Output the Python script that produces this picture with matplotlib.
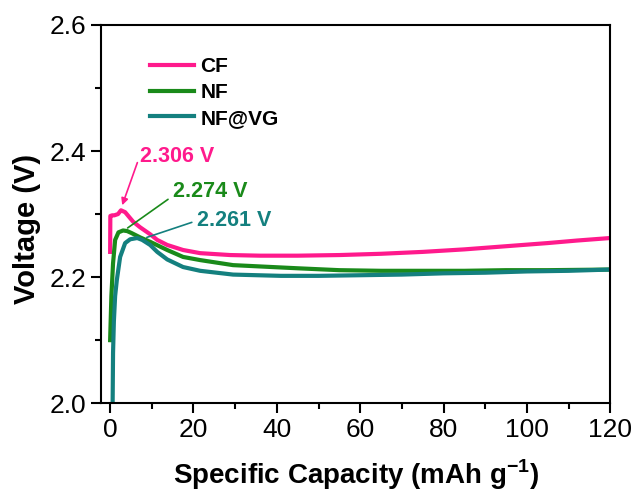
import matplotlib
matplotlib.use("Agg")
import matplotlib.pyplot as plt
from matplotlib.ticker import MultipleLocator

plt.rcParams['font.family'] = ['Liberation Sans', 'DejaVu Sans']

# values
cf_x = [0, 0.05, 0.5, 1, 1.9, 2.6, 3.6, 5.5, 7.2, 9.6, 11.3, 13.7, 17.5, 21.6, 28.8, 36, 45, 55, 65, 75, 85, 95, 105, 112, 120]
cf_y = [2.24, 2.297, 2.298, 2.298, 2.300, 2.306, 2.303, 2.288, 2.279, 2.268, 2.259, 2.251, 2.243, 2.238, 2.235, 2.234, 2.234, 2.235, 2.237, 2.240, 2.244, 2.249, 2.254, 2.258, 2.262]

nf_x = [0, 0.3, 0.7, 1.2, 2.0, 3.1, 4.1, 5.1, 7.2, 9.6, 13.7, 17.5, 21.6, 29.5, 45, 55, 65, 75, 85, 95, 105, 120]
nf_y = [2.10, 2.17, 2.222, 2.259, 2.271, 2.274, 2.273, 2.270, 2.263, 2.256, 2.243, 2.232, 2.227, 2.219, 2.214, 2.211, 2.210, 2.210, 2.210, 2.211, 2.211, 2.212]

vg_x = [0.6, 0.7, 0.9, 1.2, 1.6, 2.4, 3.6, 4.8, 6.5, 7.7, 9.6, 11.3, 13.7, 17.5, 21.6, 29.5, 41, 50, 60, 70, 80, 90, 100, 110, 120]
vg_y = [2.0, 2.08, 2.13, 2.17, 2.195, 2.232, 2.254, 2.260, 2.262, 2.259, 2.251, 2.240, 2.228, 2.216, 2.210, 2.204, 2.202, 2.202, 2.203, 2.204, 2.206, 2.207, 2.209, 2.210, 2.212]

pink = '#ff1a8c'
green = '#1a8a1a'
teal = '#14807f'

fig = plt.figure(figsize=(6.35, 4.99), dpi=100)
ax = fig.add_axes([0.159, 0.192, 0.802, 0.758])

ax.plot(cf_x, cf_y, color=pink, lw=3, label='CF')
ax.plot(nf_x, nf_y, color=green, lw=3, label='NF')
ax.plot(vg_x, vg_y, color=teal, lw=3, label='NF@VG')

ax.annotate('2.306 V', xy=(2.9, 2.314), xytext=(7.2, 2.382), color=pink,
            fontsize=15.5, fontweight='bold',
            arrowprops=dict(arrowstyle='-|>', color=pink, lw=1.2, mutation_scale=10,
                            relpos=(0, 0.6), shrinkA=0, shrinkB=0))
ax.annotate('2.274 V', xy=(4.2, 2.278), xytext=(15.1, 2.327), color=green,
            fontsize=15.5, fontweight='bold',
            arrowprops=dict(arrowstyle='-', color=green, lw=1.2,
                            relpos=(0, 0.3), shrinkA=2, shrinkB=0))
ax.annotate('2.261 V', xy=(8.8, 2.263), xytext=(20.9, 2.281), color=teal,
            fontsize=15.5, fontweight='bold',
            arrowprops=dict(arrowstyle='-', color=teal, lw=1.2,
                            relpos=(0, 0.5), shrinkA=2, shrinkB=0))

ax.set_xlim(-2.2, 120)
ax.set_ylim(2.0, 2.6)
ax.xaxis.set_major_locator(MultipleLocator(20))
ax.xaxis.set_minor_locator(MultipleLocator(10))
ax.yaxis.set_major_locator(MultipleLocator(0.2))
ax.yaxis.set_minor_locator(MultipleLocator(0.1))
ax.yaxis.set_major_formatter(plt.FormatStrFormatter('%.1f'))
ax.tick_params(which='major', direction='out', length=7, width=1.5, labelsize=19)
ax.tick_params(which='minor', direction='out', length=4, width=1.5)
for s in ax.spines.values():
    s.set_linewidth(1.5)

ax.set_xlabel('Specific Capacity (mAh g$^{\\mathregular{-1}}$)', fontsize=20, fontweight='bold', labelpad=11)
ax.set_ylabel('Voltage (V)', fontsize=21, fontweight='bold')
ax.yaxis.set_label_coords(-0.118, 0.46)

leg = ax.legend(loc='upper left', bbox_to_anchor=(0.06, 0.965), frameon=False,
                prop={'size': 15, 'weight': 'bold'}, handlelength=2.1,
                handletextpad=0.3, labelspacing=0.33)

plt.savefig('out.png', dpi=100)
